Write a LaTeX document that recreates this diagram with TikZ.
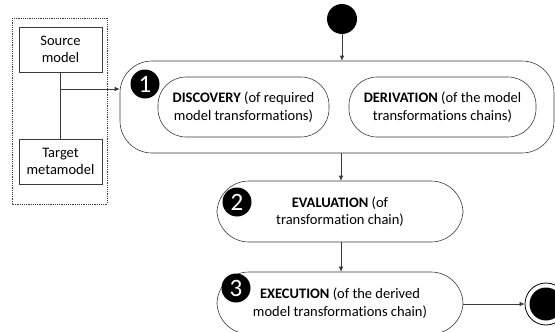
\documentclass[tikz,border=0pt]{standalone}
\usepackage{fontspec}
\setmainfont{Carlito}[Ligatures=NoCommon]
\usetikzlibrary{arrows.meta,positioning,calc}
\definecolor{wfInk}{HTML}{3A3A3A}
\tikzset{
  box/.style       ={draw=wfInk,line width=0.6pt,fill=white,align=center,
                     inner sep=2pt,font=\fontsize{14.5}{17.5}\selectfont},
  modelbox/.style  ={box,minimum width=83pt,minimum height=45pt},
  stage/.style     ={box,rounded corners=32pt},
  task/.style      ={box,rounded corners=28pt,minimum height=60pt},
  badge/.style     ={circle,fill=black,text=white,inner sep=0pt,minimum size=29pt,
                     font=\fontsize{25}{25}\selectfont},
  initial/.style   ={circle,fill=black,inner sep=0pt,minimum size=30pt},
  final/.style     ={circle,draw=black,line width=0.8pt,fill=white,inner sep=0pt,
                     minimum size=42pt,path picture={\fill[black] (path picture bounding box.center) circle (16.5pt);}},
  flow/.style      ={-{Latex[length=5pt,width=4.5pt]},wfInk,line width=0.6pt},
  link/.style      ={wfInk,line width=0.6pt},
  group/.style     ={draw=wfInk,line width=0.5pt,dash pattern=on 1.2pt off 1pt},
}
\begin{document}
\begin{tikzpicture}[x=1pt,y=-1pt]
\useasboundingbox (0,0) rectangle (555,332);

%% input models
\draw[group] (12,18) rectangle (107,204);
\node[modelbox] (src) at (60.5,49.5) {Source\\model};
\node[modelbox] (tgt) at (60.5,161.5) {Target\\metamodel};
\coordinate (jn) at (60.5,89);

%% stages
\node[initial] (start) at (342,19) {};
\node[stage,minimum width=434pt,minimum height=92pt] (stage1) at (337,107) {};
\node[task,minimum width=171pt] (disc) at (243.5,107) {\textbf{DISCOVERY} (of required\\model transformations)};
\node[task,minimum width=187pt] (deriv) at (442.5,107) {\textbf{DERIVATION} (of the model\\transformations chains)};
\node[stage,minimum width=246pt,minimum height=61pt] (stage2) at (340,211.5) {\textbf{EVALUATION} (of\\transformation chain)};
\node[stage,minimum width=246pt,minimum height=62pt] (stage3) at (340,303) {\textbf{EXECUTION} (of the derived\\model transformations chain)};
\node[final] (stop) at (546,304) {};

\node[badge] (b1) at (145,84) {1};
\node[badge] (b2) at (237,202) {2};
\node[badge] (b3) at (236,288) {3};

%% connectors
\draw[link] (src.south) -- (tgt.north);
\draw[flow] (jn) -- (jn -| stage1.west);
\draw[flow] (start.south) -- (start.south |- stage1.north);
\draw[flow] (stage1.south -| 341,0) -- (stage2.north -| 341,0);
\draw[flow] (stage2.south -| 341,0) -- (stage3.north -| 341,0);
\draw[flow] (stage3.east |- stop) -- (stop.west);
\end{tikzpicture}
\end{document}
